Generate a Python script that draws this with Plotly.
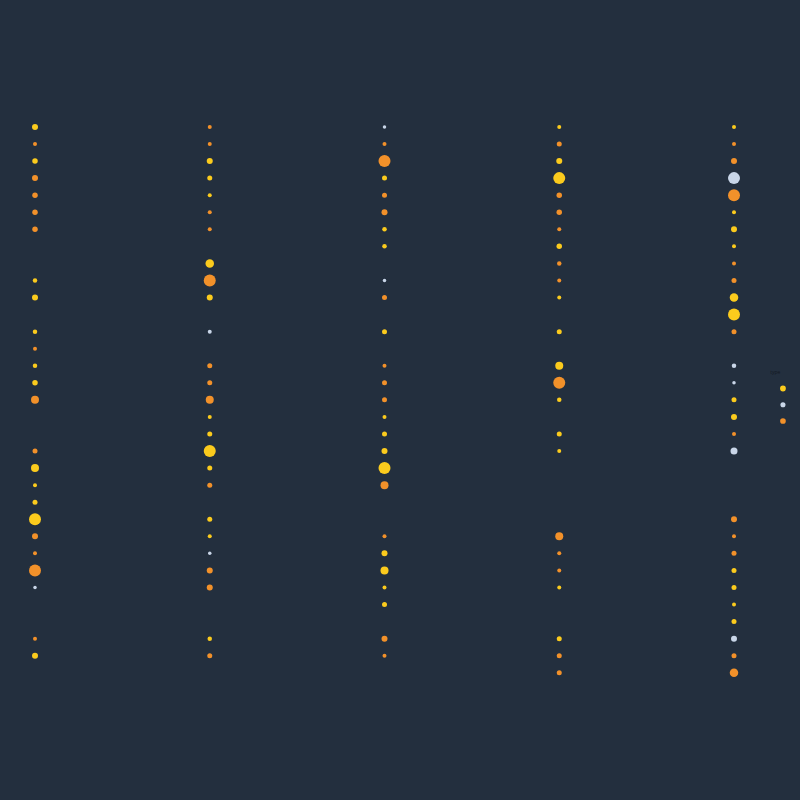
import plotly.graph_objects as go

columns = ["A", "B", "C", "D", "E"]

# yellow series: (column index, row index, marker size)
yellow_col = [0]*12 + [1]*12 + [2]*12 + [3]*12 + [4]*12
yellow_row = [0, 2, 9, 10, 12, 14, 15, 20, 21, 22, 23, 31,
              2, 3, 4, 8, 10, 17, 18, 19, 20, 23, 24, 30,
              3, 6, 7, 12, 17, 18, 19, 20, 25, 26, 27, 28,
              0, 2, 3, 7, 10, 12, 14, 16, 18, 19, 27, 30,
              0, 5, 6, 7, 10, 11, 16, 17, 26, 27, 28, 29]
yellow_size = [6, 5.5, 4.5, 6, 4.5, 4.5, 5.5, 8, 4, 5, 12, 6,
               6, 5, 4, 8.5, 6, 4, 5, 12, 5, 5, 4, 4.5,
               5, 4.5, 4.5, 5, 4, 5, 6, 12, 6, 8, 4, 5,
               4, 6, 12, 5.5, 4, 5, 8, 4.5, 5, 4, 4, 5,
               4, 4, 6, 4, 8.5, 12, 5, 6, 5, 5, 4, 5]

gray_col = [0, 1, 1, 2, 2, 4, 4, 4, 4, 4]
gray_row = [27, 12, 25, 0, 9, 3, 14, 15, 19, 30]
gray_size = [3.5, 4, 3.5, 3.5, 3.5, 12, 4.5, 3.5, 7, 6]

orange_col = [0]*12 + [1]*12 + [2]*12 + [3]*12 + [4]*12
orange_row = [1, 3, 4, 5, 6, 13, 16, 19, 24, 25, 26, 30,
              0, 1, 5, 6, 9, 14, 15, 16, 21, 26, 27, 31,
              1, 2, 4, 5, 10, 14, 15, 16, 21, 24, 30, 31,
              1, 4, 5, 6, 8, 9, 15, 24, 25, 26, 31, 32,
              1, 2, 4, 8, 9, 12, 18, 23, 24, 25, 31, 32]
orange_size = [4, 6, 5.5, 5.5, 5.5, 4, 8, 5, 6, 4, 12, 4,
               4, 4, 4, 4, 12, 5, 5, 8, 5, 6, 6, 5,
               4, 12, 5, 6, 5, 4, 5, 5, 8, 4, 6, 4,
               5, 5.5, 5.5, 4, 4.5, 4, 12, 8, 4, 4, 5, 5,
               4, 6, 12, 4, 5, 5, 4, 6, 4, 5, 5, 8.5]

series_names = ["high", "low", "medium"]
series_colors = ["#fbcb1d", "#c9d6e8", "#f2912a"]
legend_ids = ["legend", "legend2", "legend3"]

fig = go.Figure()
for name, color, lid, cols, rows, sizes in [
    (series_names[0], series_colors[0], legend_ids[0], yellow_col, yellow_row, yellow_size),
    (series_names[1], series_colors[1], legend_ids[1], gray_col, gray_row, gray_size),
    (series_names[2], series_colors[2], legend_ids[2], orange_col, orange_row, orange_size),
]:
    fig.add_trace(go.Scatter(
        x=[columns[c] for c in cols], y=rows, mode="markers", name=name,
        legend=lid,
        marker=dict(color=color, size=sizes, opacity=1, line=dict(width=0)),
    ))

bg = "#232f3e"
txt = "#131922"
H0, H1 = 100, 720  # plot area top/bottom in px


def py(p):
    return (H1 - p) / (H1 - H0)


leg_common = dict(x=1.02, xanchor="left", bgcolor="rgba(0,0,0,0)",
                  font=dict(size=5, color=txt))
fig.update_layout(
    width=800, height=800,
    paper_bgcolor=bg, plot_bgcolor=bg,
    margin=dict(l=0, r=52, t=100, b=80, autoexpand=False),
    xaxis=dict(type="category", categoryarray=columns, range=[-0.2003, 4.0801],
               visible=False, showgrid=False, zeroline=False),
    yaxis=dict(range=[34.77, -1.58], visible=False, showgrid=False, zeroline=False),
    legend=dict(title=dict(text="\u00a0\u00a0\u00a0\u00a0type", font=dict(size=5, color=txt)),
                y=py(367.5), yanchor="top", **leg_common),
    legend2=dict(y=py(404.7), yanchor="middle", **leg_common),
    legend3=dict(y=py(421), yanchor="middle", **leg_common),
    showlegend=True,
)
fig.write_html("out.html")
